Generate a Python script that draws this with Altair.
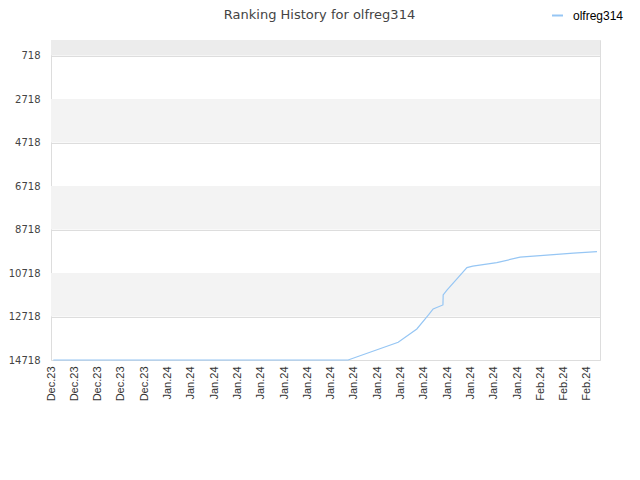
import altair as alt
import pandas as pd

series_name = "olfreg314"
x_labels = ["Dec.23"] * 5 + ["Jan.24"] * 16 + ["Feb.24"] * 3
y_ticks = [718, 2718, 4718, 6718, 8718, 10718, 12718, 14718]
band_lo = [0, 2718, 6718, 10718]
band_hi = [718, 4718, 8718, 12718]
band_col = ["#ececec", "#f3f3f3", "#f3f3f3", "#f3f3f3"]

pos = [0.1, 12.75, 14.9, 15.7, 16.2, 16.4, 16.82, 16.83, 17.0, 17.42, 17.85, 18.1,
       19.13, 20.13, 21.42, 22.42, 23.43]
rank = [14718, 14718, 13903, 13291, 12646, 12370, 12186, 11725, 11495, 10988, 10468,
        10403, 10238, 9989, 9883, 9805, 9731]

line_df = pd.DataFrame({"x": pos, "rank": rank, "s": [series_name] * len(pos)})
band_df = pd.DataFrame({"lo": band_lo, "hi": band_hi, "c": band_col})

xs = alt.Scale(domain=[0, 23.56], nice=False, zero=False)
ys = alt.Scale(domain=[0, 14718], reverse=True, nice=False, zero=False)

label_js = "[" + ",".join("'%s'" % l for l in x_labels) + "][datum.value]"

y_axis = alt.Axis(values=y_ticks, format="d", ticks=False, domain=False,
                  grid=True, gridColor="#dddddd", labelPadding=11,
                  labelFont="DejaVu Sans", labelFontSize=10, labelColor="#444444")

bands = alt.Chart(band_df).mark_rect().encode(
    x=alt.value(0), x2=alt.value(549),
    y=alt.Y("lo:Q", scale=ys, title=None, axis=y_axis),
    y2="hi:Q",
    fill=alt.Fill("c:N", scale=None, legend=None),
)

line = alt.Chart(line_df).mark_line(strokeWidth=1.2, interpolate="linear").encode(
    x=alt.X("x:Q", scale=xs, title=None,
            axis=alt.Axis(values=list(range(len(x_labels))), labelExpr=label_js,
                          labelAngle=-90, labelAlign="right", labelBaseline="middle",
                          ticks=False, domain=False, grid=False, labelPadding=6,
                          labelFont="Liberation Sans", labelFontSize=11, labelColor="#333333")),
    y=alt.Y("rank:Q", scale=ys, title=None, axis=y_axis),
    color=alt.Color("s:N", scale=alt.Scale(domain=[series_name], range=["#96c6f4"]),
                    legend=alt.Legend(title=None, orient="none", legendX=500, legendY=-31,
                                      symbolType="stroke", symbolStrokeWidth=2, symbolSize=120,
                                      labelOffset=9,
                                      labelFont="Liberation Sans", labelFontSize=12,
                                      labelColor="#000000")),
)

chart = alt.layer(bands, line).properties(
    width=549, height=320,
    title=alt.TitleParams("Ranking History for olfreg314", fontSize=13, fontWeight="normal",
                          font="DejaVu Sans", color="#444444", offset=17, dx=-6, dy=30),
    autosize=alt.AutoSizeParams(type="none"),
    padding={"left": 43, "top": 32, "right": 28, "bottom": 100},
).configure_view(stroke="#dddddd", strokeWidth=1)

chart.save("out.html", embed_options={"renderer": "svg", "actions": False})
